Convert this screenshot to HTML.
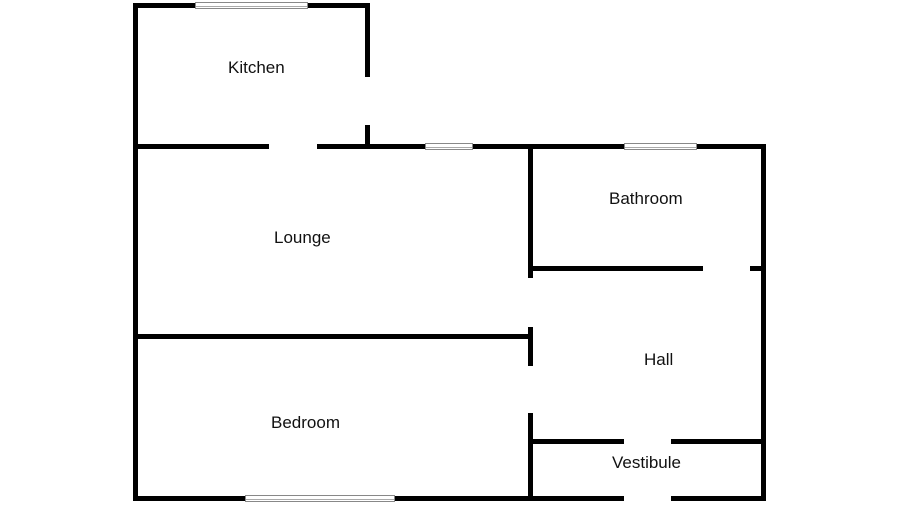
<!DOCTYPE html>
<html><head><style>
html,body{margin:0;padding:0;background:#fff;width:900px;height:506px;overflow:hidden}
body{position:relative;font-family:"Liberation Sans",sans-serif}
.w{position:absolute;background:#000}
.win{position:absolute;background:#fff;border:1px solid #888;box-sizing:border-box}
.win:after{content:"";position:absolute;left:0;right:0;top:50%;border-top:1px solid #aaa}
.t{position:absolute;font-size:17px;color:#111;white-space:nowrap}
</style></head><body>
<div class="w" style="left:133px;top:3px;width:5px;height:498px"></div>
<div class="w" style="left:133px;top:3px;width:237px;height:5px"></div>
<div class="win" style="left:195px;top:2px;width:113px;height:7px"></div>
<div class="w" style="left:365px;top:3px;width:5px;height:74px"></div>
<div class="w" style="left:365px;top:125px;width:5px;height:22px"></div>
<div class="w" style="left:133px;top:144px;width:136px;height:5px"></div>
<div class="w" style="left:317px;top:144px;width:449px;height:5px"></div>
<div class="win" style="left:425px;top:143px;width:48px;height:7px"></div>
<div class="win" style="left:624px;top:143px;width:73px;height:7px"></div>
<div class="w" style="left:761px;top:144px;width:5px;height:357px"></div>
<div class="w" style="left:528px;top:144px;width:5px;height:134px"></div>
<div class="w" style="left:528px;top:327px;width:5px;height:39px"></div>
<div class="w" style="left:528px;top:413px;width:5px;height:88px"></div>
<div class="w" style="left:528px;top:266px;width:175px;height:5px"></div>
<div class="w" style="left:750px;top:266px;width:16px;height:5px"></div>
<div class="w" style="left:133px;top:334px;width:400px;height:5px"></div>
<div class="w" style="left:528px;top:439px;width:96px;height:5px"></div>
<div class="w" style="left:671px;top:439px;width:95px;height:5px"></div>
<div class="w" style="left:133px;top:496px;width:491px;height:5px"></div>
<div class="w" style="left:671px;top:496px;width:95px;height:5px"></div>
<div class="win" style="left:245px;top:495px;width:150px;height:7px"></div>
<div class="t" style="left:228px;top:58px">Kitchen</div>
<div class="t" style="left:274px;top:228px">Lounge</div>
<div class="t" style="left:609px;top:189px">Bathroom</div>
<div class="t" style="left:644px;top:350px">Hall</div>
<div class="t" style="left:271px;top:413px">Bedroom</div>
<div class="t" style="left:612px;top:453px">Vestibule</div>
</body></html>
